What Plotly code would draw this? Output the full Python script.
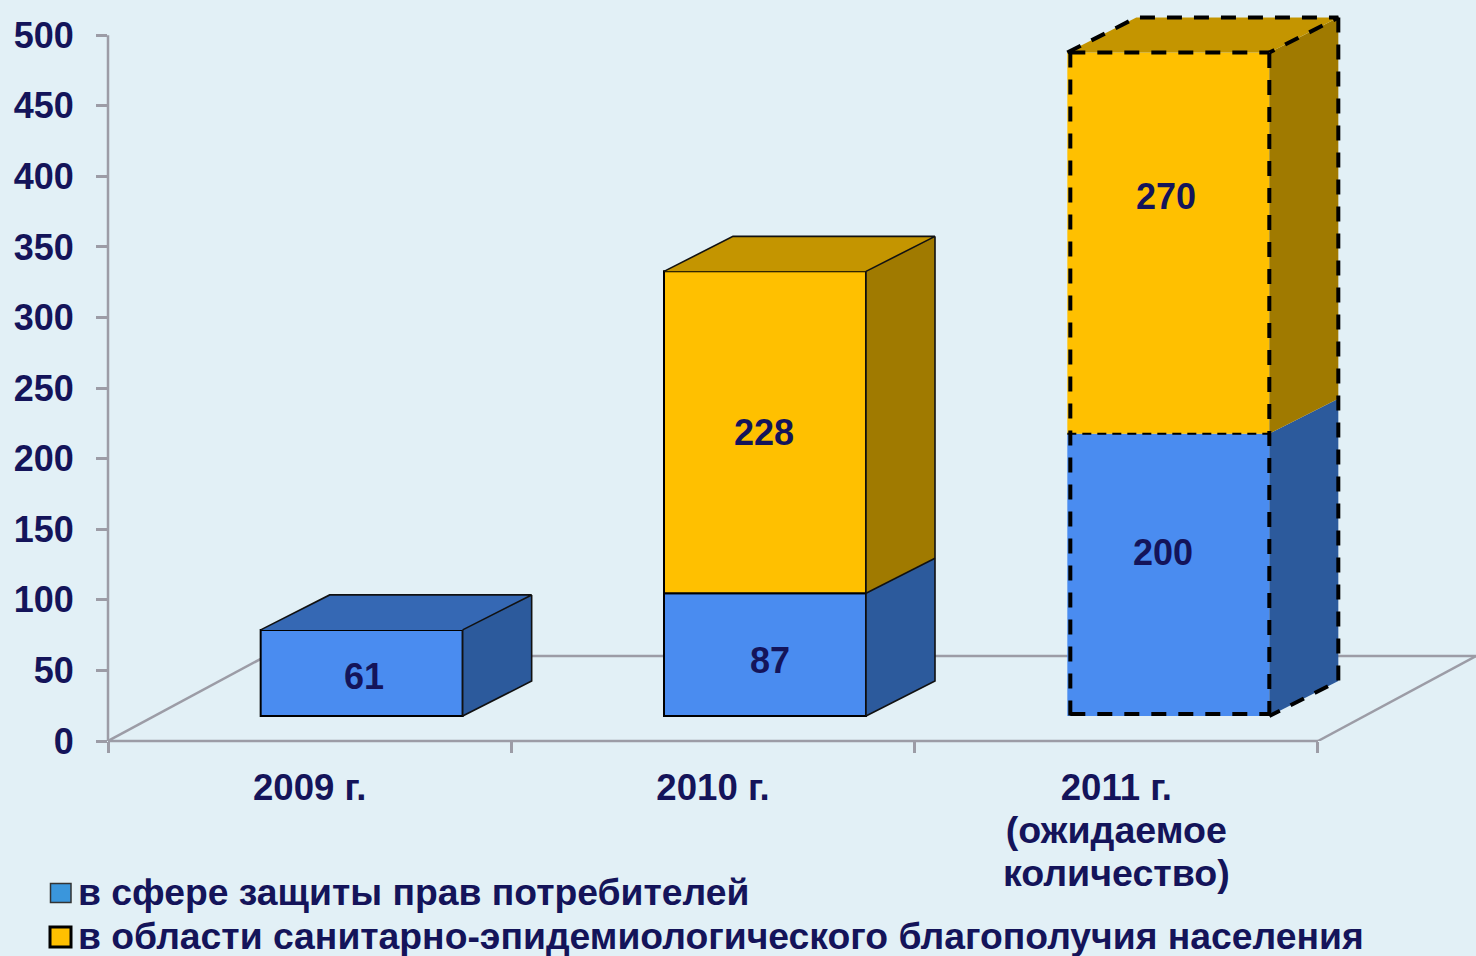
import plotly.graph_objects as go

categories = ["2009 г.", "2010 г.", "2011 г.<br>(ожидаемое<br>количество)"]
series_names = ["в сфере защиты прав потребителей",
                "в области санитарно-эпидемиологического благополучия населения"]
consumer_values = [61, 87, 200]
sanitary_values = [None, 228, 270]
y_ticks = [0, 50, 100, 150, 200, 250, 300, 350, 400, 450, 500]

NAVY = "#14145A"
AXIS = "#9C9CA6"
BG = "#E2F0F6"
FONT = "Liberation Sans, Arial, sans-serif"
BLUE = dict(front="#4A8CF0", top="#3568B4", side="#2C5A9C", legend="#3A96DC")
GOLD = dict(front="#FFC000", top="#C49500", side="#A07A00", legend="#FFC000")

# 3-D projection parameters (in axis units)
PX_X = 403.33
PX_Y = 1.412
BAR_W = 202 / PX_X
SHIFTS = [52 / PX_X, 52 / PX_X, 52 / PX_X]
DX = 69 / PX_X
DY = 35 / PX_Y
BASE = 25 / PX_Y
FLOOR_DX = 158 / PX_X
FLOOR_DY = 85 / PX_Y
X_MAX = -0.5 + (1476 - 108) / PX_X
Y_TOP = 520
MARGIN_L = 108
MARGIN_B = 215
PLOT_W = 1476 - MARGIN_L
PLOT_H = Y_TOP * PX_Y

idx = list(range(len(categories)))
fig = go.Figure()

# front faces
bar_x = [i + SHIFTS[i] for i in idx]
fig.add_trace(go.Bar(x=bar_x, y=consumer_values, base=[BASE] * 3, width=BAR_W, name=series_names[0],
                     marker=dict(color=BLUE["front"],
                                 line=dict(color=["black", "black", "rgba(0,0,0,0)"], width=2)),
                     showlegend=False, hoverinfo="skip"))
fig.add_trace(go.Bar(x=bar_x, y=sanitary_values, name=series_names[1],
                     base=[BASE + (c or 0) for c in consumer_values], width=BAR_W,
                     marker=dict(color=GOLD["front"],
                                 line=dict(color=["black", "black", "rgba(0,0,0,0)"], width=2)),
                     showlegend=False, hoverinfo="skip"))


def poly(xs, ys, color):
    fig.add_trace(go.Scatter(x=xs, y=ys, mode="lines", fill="toself", fillcolor=color,
                             line=dict(width=0, color=color), showlegend=False,
                             hoverinfo="skip", cliponaxis=False))


# top and side faces, then edges
for i in idx:
    l = bar_x[i] - BAR_W / 2
    r = bar_x[i] + BAR_W / 2
    c = consumer_values[i]
    s = sanitary_values[i]
    y0 = BASE
    y1 = BASE + c
    y2 = y1 + (s or 0)
    poly([r, r + DX, r + DX, r, r], [y0, y0 + DY, y1 + DY, y1, y0], BLUE["side"])
    if s:
        poly([r, r + DX, r + DX, r, r], [y1, y1 + DY, y2 + DY, y2, y1], GOLD["side"])
    top = GOLD["top"] if s else BLUE["top"]
    poly([l, l + DX, r + DX, r, l], [y2, y2 + DY, y2 + DY, y2, y2], top)
    ex = [l, l + DX, r + DX, r, None, r + DX, r + DX, r, None, r, r]
    ey = [y2, y2 + DY, y2 + DY, y2, None, y2 + DY, y0 + DY, y0, None, y0, y2]
    if i == 2:
        inset_x = 3 / PX_X
        inset_y = 2 / PX_Y
        ex += [None, l + inset_x, r, None, l + inset_x, l + inset_x, None, l + inset_x, r]
        ey += [None, y2, y2, None, y2, y0 - inset_y, None, y0 + inset_y, y0 + inset_y]
        fig.add_trace(go.Scatter(x=ex, y=ey, mode="lines", showlegend=False, hoverinfo="skip",
                                 cliponaxis=False,
                                 line=dict(color="black", width=4, dash="15px,12px")))
        fig.add_trace(go.Scatter(x=[l, r], y=[y1, y1], mode="lines", showlegend=False,
                                 hoverinfo="skip", line=dict(color="black", width=2, dash="9px,6px")))
    else:
        if s:
            ex += [None, r, r + DX]
            ey += [None, y1, y1 + DY]
        fig.add_trace(go.Scatter(x=ex, y=ey, mode="lines", showlegend=False, hoverinfo="skip",
                                 cliponaxis=False, line=dict(color="#111111", width=1.6)))

# value labels
low_shift = [(2, -4), (5, -6), (-5, 22)]
high_shift = [None, (-1, 0), (-2, 47)]
label_font = dict(size=36, color=NAVY, family=FONT, weight=700)
annos = []
for i in idx:
    c = consumer_values[i]
    annos.append(dict(x=bar_x[i], y=BASE + c / 2, text=str(c), showarrow=False,
                      xshift=low_shift[i][0], yshift=low_shift[i][1], font=label_font))
    s = sanitary_values[i]
    if s:
        annos.append(dict(x=bar_x[i], y=BASE + c + s / 2, text=str(s), showarrow=False,
                          xshift=high_shift[i][0], yshift=high_shift[i][1], font=label_font))

floor_line = dict(color=AXIS, width=2.5)
shapes = [
    dict(type="line", xref="x", yref="y", layer="below", line=floor_line,
         x0=-0.5, y0=0, x1=-0.5 + FLOOR_DX, y1=FLOOR_DY),
    dict(type="line", xref="x", yref="y", layer="below", line=floor_line,
         x0=-0.5 + FLOOR_DX, y0=FLOOR_DY, x1=X_MAX, y1=FLOOR_DY),
    dict(type="line", xref="x", yref="y", layer="below", line=floor_line,
         x0=2.5, y0=0, x1=2.5 + FLOOR_DX, y1=FLOOR_DY),
    dict(type="line", xref="x", yref="paper", layer="below", line=floor_line,
         x0=-0.5, y0=0, x1=2.5, y1=0),
    dict(type="line", xref="paper", yref="y", layer="below", line=floor_line,
         x0=0, y0=0, x1=0, y1=500),
]


# legend drawn in page pixels
def page_x(px):
    return (px - MARGIN_L) / PLOT_W


def page_y(px):
    return ((956 - MARGIN_B) - px) / PLOT_H


legend_rows = [(892, 893, 50.5, 71, 9.5, BLUE["legend"], "#333333", 1.5),
               (936, 937, 50, 71, 10, GOLD["legend"], "black", 3)]
for name, (text_y, box_y, bx0, bx1, half, col, lc, lw) in zip(series_names, legend_rows):
    annos.append(dict(xref="paper", yref="paper", x=page_x(75.5), y=page_y(text_y), text=name,
                      xanchor="left", yanchor="middle", showarrow=False,
                      font=dict(size=37.3, color=NAVY, family=FONT, weight=700)))
    shapes.append(dict(type="rect", xref="paper", yref="paper", fillcolor=col,
                       line=dict(color=lc, width=lw),
                       x0=page_x(bx0), x1=page_x(bx1),
                       y0=page_y(box_y + half), y1=page_y(box_y - half)))


def tick_markup(cat):
    parts = cat.split("<br>")
    sizes = [36.6] + [37.6] * (len(parts) - 1)
    return "<br>".join('<span style="font-size:%spx">%s</span>' % (sz, p)
                       for sz, p in zip(sizes, parts))


tick_text = [tick_markup(c) for c in categories]

fig.update_layout(
    width=1476, height=956, autosize=False,
    margin=dict(l=MARGIN_L, r=0, t=956 - MARGIN_B - PLOT_H, b=MARGIN_B, pad=0),
    paper_bgcolor=BG, plot_bgcolor=BG,
    barmode="overlay",
    shapes=shapes, annotations=annos,
    font=dict(family=FONT, color=NAVY),
    showlegend=False,
    xaxis=dict(range=[-0.5, X_MAX], showgrid=False, zeroline=False, showline=False,
               tickmode="array", tickvals=idx, ticktext=tick_text, ticks="",
               ticklabelstandoff=25, automargin=False,
               tickfont=dict(size=33, color=NAVY, family=FONT, weight=700),
               minor=dict(tickmode="array", tickvals=[-0.5, 0.5, 1.5, 2.5], ticks="outside",
                          ticklen=11, tickwidth=2.5, tickcolor=AXIS, showgrid=False)),
    yaxis=dict(range=[0, Y_TOP], showgrid=False, zeroline=False, showline=False,
               tickmode="array", tickvals=y_ticks, ticklabelstandoff=15, automargin=False,
               ticks="outside", ticklen=11, tickwidth=2.5, tickcolor=AXIS,
               tickfont=dict(size=36, color=NAVY, family=FONT, weight=700)),
)

fig.write_html("out.html", config=dict(displayModeBar=False),
               post_script="document.body.style.margin='0';")
